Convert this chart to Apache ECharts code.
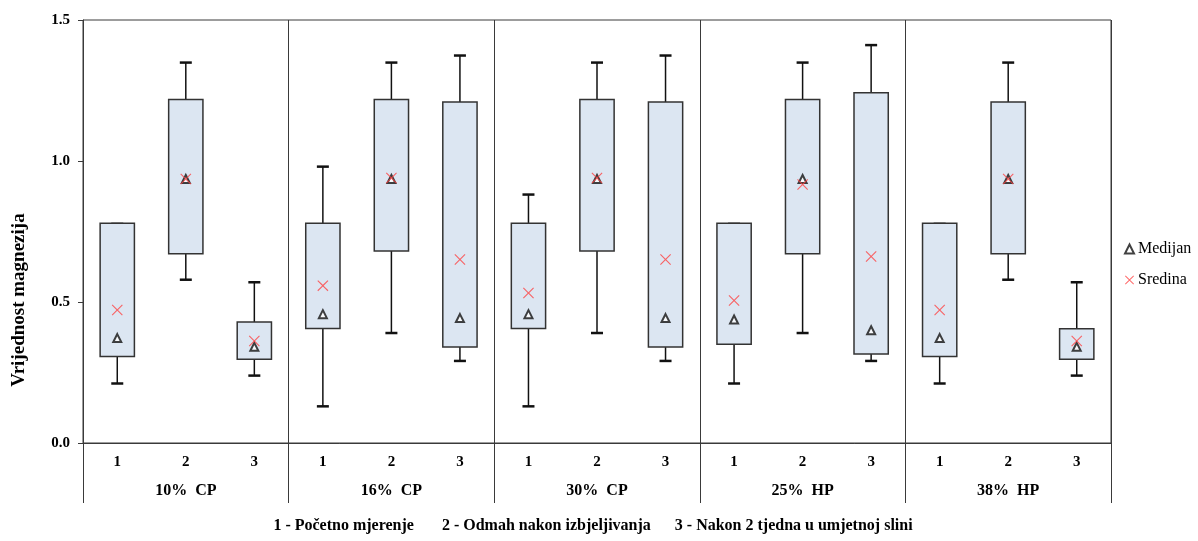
<!DOCTYPE html>
<html>
<head>
<meta charset="utf-8">
<script src="https://cdn.jsdelivr.net/npm/echarts@6/dist/echarts.min.js"></script>
<style>html,body{margin:0;padding:0;background:#fff}#c{width:1198px;height:541px}</style>
</head>
<body>
<div id="c"></div>
<script>
const groups = ['10%  CP', '16%  CP', '30%  CP', '25%  HP', '38%  HP'];
const categories = ['1', '2', '3'];
const yTicks = [0, 0.5, 1.0, 1.5];
// per box, order: group1 (1,2,3), group2 (1,2,3) ...
const lowVals    = [0.211, 0.579, 0.239,  0.130, 0.390, 0.291,  0.130, 0.390, 0.291,  0.211, 0.390, 0.291,  0.211, 0.579, 0.239];
const q1Vals     = [0.307, 0.671, 0.297,  0.406, 0.681, 0.340,  0.406, 0.681, 0.340,  0.350, 0.671, 0.316,  0.307, 0.671, 0.297];
const medianVals = [0.372, 0.936, 0.341,  0.457, 0.936, 0.443,  0.457, 0.936, 0.443,  0.438, 0.936, 0.400,  0.372, 0.936, 0.341];
const q3Vals     = [0.779, 1.218, 0.429,  0.779, 1.218, 1.209,  0.779, 1.218, 1.209,  0.779, 1.218, 1.242,  0.779, 1.209, 0.405];
const highVals   = [0.777, 1.349, 0.570,  0.980, 1.349, 1.374,  0.881, 1.349, 1.374,  0.777, 1.349, 1.411,  0.777, 1.349, 0.570];
const meanVals   = [0.472, 0.936, 0.362,  0.558, 0.940, 0.651,  0.532, 0.940, 0.651,  0.505, 0.917, 0.661,  0.472, 0.936, 0.362];
const bottomNote = '1 - Početno mjerenje       2 - Odmah nakon izbjeljivanja      3 - Nakon 2 tjedna u umjetnoj slini';
const yTitle = 'Vrijednost magnezija';

const FONT = '"Liberation Serif", "Times New Roman", serif';
const LINE = '#3a3a3a';

const xCats = [];
groups.forEach(g => categories.forEach(c => xCats.push(g + '|' + c)));

const boxData = xCats.map((_, i) => [i, lowVals[i], q1Vals[i], q3Vals[i], highVals[i]]);
const medData = xCats.map((_, i) => [i, medianVals[i]]);
const meanData = xCats.map((_, i) => [i, meanVals[i]]);

const crossPath = 'path://M0,0.7 L0.7,0 L5,4.3 L9.3,0 L10,0.7 L5.7,5 L10,9.3 L9.3,10 L5,5.7 L0.7,10 L0,9.3 L4.3,5 Z';

const chart = echarts.init(document.getElementById('c'), null, {renderer: 'canvas'});
chart.setOption({
  animation: false,
  backgroundColor: '#fff',
  grid: {left: 83, right: 87, top: 20, bottom: 98, show: true, borderColor: LINE, borderWidth: 1, backgroundColor: 'transparent'},
  xAxis: [{
    type: 'category', data: xCats, boundaryGap: true,
    axisLine: {show: true, lineStyle: {color: LINE, width: 1}},
    axisTick: {show: false},
    splitLine: {show: false},
    axisLabel: {margin: 12, color: '#000', fontFamily: FONT, fontWeight: 'bold', fontSize: 15,
      formatter: v => v.split('|')[1]}
  }, {
    type: 'category', data: groups, boundaryGap: true, position: 'bottom',
    axisLine: {show: false},
    axisTick: {show: true, length: 60, lineStyle: {color: LINE, width: 1}},
    splitLine: {show: true, lineStyle: {color: LINE, width: 1}},
    axisLabel: {margin: 40, color: '#000', fontFamily: FONT, fontWeight: 'bold', fontSize: 16}
  }],
  yAxis: {
    type: 'value', min: 0, max: 1.5, interval: 0.5,
    axisLine: {show: true, lineStyle: {color: LINE, width: 1}},
    axisTick: {show: true, length: 5, lineStyle: {color: LINE}},
    splitLine: {show: false},
    axisLabel: {margin: 13, color: '#000', fontFamily: FONT, fontWeight: 'bold', fontSize: 15,
      formatter: v => v.toFixed(1)}
  },
  legend: {
    orient: 'vertical', left: 1119, top: 236, itemGap: 15, itemWidth: 9, itemHeight: 9,
    textStyle: {fontFamily: FONT, fontSize: 16, color: '#000', padding: [0, 0, 0, -1]},
    data: [{name: 'Medijan'}, {name: 'Sredina'}]
  },
  graphic: [
    {type: 'text', x: 19, y: 300, rotation: Math.PI / 2,
      style: {text: yTitle, font: 'bold 19px ' + FONT, fill: '#000', align: 'center', verticalAlign: 'middle'}},
    {type: 'text', x: 593, y: 526,
      style: {text: bottomNote, font: 'bold 16px ' + FONT, fill: '#000', align: 'center', verticalAlign: 'middle', whiteSpace: 'pre'}}
  ],
  series: [{
    type: 'custom', name: 'box', z: 2,
    data: boxData,
    encode: {x: 0, y: [1, 2, 3, 4]},
    renderItem: function (params, api) {
      const i = api.value(0);
      const pLow = api.coord([i, api.value(1)]);
      const pQ1 = api.coord([i, api.value(2)]);
      const pQ3 = api.coord([i, api.value(3)]);
      const pHigh = api.coord([i, api.value(4)]);
      const bw = api.size([1, 0])[0] * 0.5;
      const cw = 12;
      const x = pLow[0];
      return {
        type: 'group',
        children: [
          {type: 'line', shape: {x1: x, y1: pHigh[1], x2: x, y2: pQ3[1]}, style: {stroke: '#111', lineWidth: 1.5}},
          {type: 'line', shape: {x1: x, y1: pLow[1], x2: x, y2: pQ1[1]}, style: {stroke: '#111', lineWidth: 1.5}},
          {type: 'line', shape: {x1: x - cw / 2, y1: pHigh[1], x2: x + cw / 2, y2: pHigh[1]}, style: {stroke: '#111', lineWidth: 2.5}},
          {type: 'line', shape: {x1: x - cw / 2, y1: pLow[1], x2: x + cw / 2, y2: pLow[1]}, style: {stroke: '#111', lineWidth: 2.5}},
          {type: 'rect', shape: {x: x - bw / 2, y: pQ3[1], width: bw, height: pQ1[1] - pQ3[1]},
            style: {fill: '#dce6f2', stroke: '#333', lineWidth: 1.5}}
        ]
      };
    }
  }, {
    type: 'scatter', name: 'Medijan', z: 4,
    data: medData, symbol: 'emptyTriangle', symbolSize: 8,
    itemStyle: {color: '#111', borderColor: '#111', borderWidth: 1.5}
  }, {
    type: 'scatter', name: 'Sredina', z: 5,
    data: meanData, symbol: crossPath, symbolSize: 11,
    itemStyle: {color: '#ff4040'}
  }]
});
</script>
</body>
</html>
